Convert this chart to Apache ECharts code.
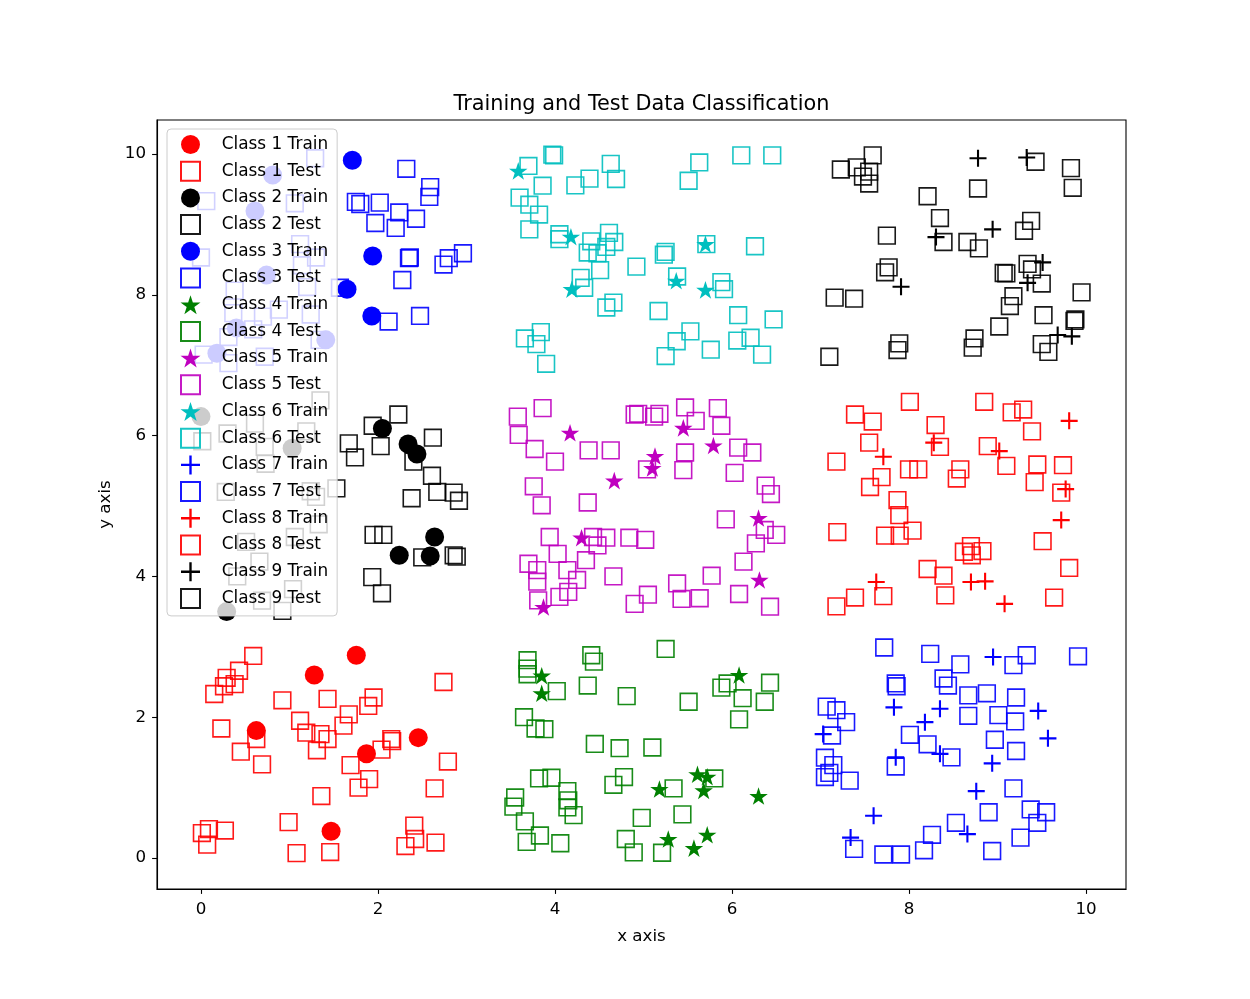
<!DOCTYPE html>
<html>
<head>
<meta charset="utf-8">
<script src="https://cdn.jsdelivr.net/npm/echarts@6.0.0/dist/echarts.min.js"></script>
<style>
html, body {margin:0; padding:0; background:#fff;}
#chart {width:1250px; height:999px;}
</style>
</head>
<body>
<div id="chart"></div>
<script>
// points, [x, y]
var class1Train = [[1.755,2.88],[1.28,2.60],[0.625,1.81],[2.455,1.71],[1.87,1.48],[1.47,0.38]];
var class1Test = [[0.59,2.87],[0.43,2.66],[0.29,2.56],[0.38,2.47],[0.26,2.44],[0.15,2.33],[2.74,2.50],[0.92,2.24],[1.43,2.26],[1.95,2.28],[1.89,2.16],[1.67,2.04],[1.12,1.95],[1.61,1.88],[0.23,1.84],[1.19,1.78],[1.35,1.76],[1.43,1.69],[0.625,1.69],[2.15,1.69],[2.16,1.66],[2.04,1.54],[1.31,1.53],[0.45,1.51],[0.69,1.33],[1.69,1.32],[2.79,1.37],[1.90,1.12],[1.78,1.00],[2.64,0.99],[1.36,0.88],[0.99,0.51],[0.01,0.355],[0.09,0.41],[0.27,0.39],[0.07,0.19],[2.41,0.46],[2.42,0.27],[2.31,0.17],[2.65,0.22],[1.08,0.07],[1.46,0.085]];
var class2Train = [[2.05,6.10],[2.34,5.88],[2.44,5.74],[2.64,4.56],[2.24,4.30],[2.59,4.29],[0.0,6.27],[1.03,5.82],[0.29,3.50]];
var class2Test = [[2.23,6.30],[1.94,6.14],[1.67,5.89],[1.74,5.69],[2.03,5.85],[2.62,5.97],[2.40,5.63],[2.61,5.43],[2.67,5.20],[2.855,5.19],[2.915,5.075],[2.38,5.11],[1.95,4.59],[2.06,4.59],[2.50,4.27],[2.855,4.30],[2.89,4.28],[1.935,3.99],[2.045,3.76],[1.35,6.50],[0.61,6.17],[0.30,6.03],[0.015,5.92],[1.19,6.06],[0.72,5.84],[0.73,5.60],[1.53,5.25],[0.28,5.20],[1.24,5.21],[1.30,5.13],[1.33,4.74],[0.51,4.49],[1.06,4.56],[0.66,4.21],[0.41,4.00],[1.04,3.82],[0.69,3.655],[0.92,3.51]];
var class3Train = [[1.71,9.91],[1.94,8.55],[1.65,8.08],[1.93,7.70],[0.81,9.70],[0.61,9.19],[0.74,8.28],[0.40,7.53],[1.41,7.36],[0.18,7.17]];
var class3Test = [[2.32,9.79],[2.59,9.53],[2.58,9.39],[1.75,9.32],[1.80,9.29],[2.02,9.31],[2.24,9.17],[2.43,9.08],[1.97,9.02],[2.20,8.95],[2.35,8.52],[2.36,8.53],[2.96,8.59],[2.80,8.52],[2.74,8.43],[2.275,8.21],[2.475,7.70],[2.12,7.62],[1.57,8.10],[1.29,9.94],[0.06,9.33],[1.06,9.30],[0.0,8.53],[1.12,8.72],[1.30,8.53],[1.14,8.42],[1.20,8.11],[0.38,8.06],[0.365,7.74],[0.88,7.79],[0.70,7.69],[1.24,7.72],[0.31,7.40],[0.59,7.51],[0.03,7.15],[0.31,7.03],[0.72,7.12],[1.34,7.36]];
var class4Train = [[3.85,2.59],[3.85,2.34],[6.08,2.60],[5.61,1.19],[5.72,1.155],[5.18,0.98],[5.68,0.96],[6.30,0.88],[5.28,0.27],[5.72,0.33],[5.57,0.14]];
var class4Test = [[5.25,2.97],[4.41,2.88],[4.44,2.79],[3.69,2.81],[3.69,2.69],[3.69,2.61],[4.02,2.37],[4.37,2.45],[4.81,2.30],[5.51,2.22],[5.88,2.42],[5.95,2.48],[6.12,2.27],[6.43,2.49],[6.37,2.22],[6.08,1.97],[3.65,2.00],[3.78,1.84],[3.88,1.83],[4.45,1.62],[4.73,1.56],[5.10,1.57],[3.82,1.13],[3.96,1.14],[4.78,1.15],[4.66,1.04],[4.14,0.95],[4.15,0.82],[4.14,0.72],[4.21,0.61],[3.55,0.86],[3.53,0.73],[3.66,0.52],[3.68,0.23],[3.83,0.32],[4.06,0.21],[5.34,0.99],[5.80,1.13],[4.98,0.57],[5.44,0.62],[4.80,0.27],[4.89,0.08],[5.21,0.075]];
var class5Train = [[4.17,6.04],[5.45,6.11],[5.79,5.86],[5.13,5.71],[5.10,5.54],[4.67,5.36],[6.30,4.83],[4.30,4.55],[6.31,3.95],[3.87,3.565]];
var class5Test = [[3.58,6.27],[3.86,6.39],[3.59,6.01],[3.77,5.81],[4.00,5.63],[4.38,5.79],[4.63,5.79],[4.90,6.30],[4.94,6.31],[5.12,6.27],[5.18,6.31],[5.47,6.40],[5.59,6.21],[5.84,6.39],[5.88,6.14],[5.47,5.76],[5.45,5.51],[5.04,5.52],[6.07,5.83],[6.23,5.76],[6.03,5.47],[6.38,5.29],[6.44,5.17],[3.76,5.28],[3.85,5.01],[4.37,5.05],[5.93,4.81],[6.37,4.66],[6.50,4.59],[6.27,4.47],[6.13,4.21],[3.94,4.56],[4.43,4.56],[4.48,4.44],[4.58,4.55],[4.84,4.55],[5.02,4.52],[4.03,4.32],[4.35,4.23],[3.70,4.18],[3.80,4.09],[4.14,4.09],[4.25,3.95],[3.80,3.925],[4.15,3.78],[4.05,3.71],[3.81,3.66],[4.66,4.00],[5.38,3.90],[5.77,4.01],[5.05,3.74],[4.90,3.61],[5.43,3.68],[5.635,3.69],[6.08,3.75],[6.43,3.57]];
var class6Train = [[3.585,9.76],[4.18,8.825],[5.70,8.72],[5.37,8.20],[4.19,8.08],[5.70,8.07]];
var class6Test = [[3.97,9.99],[3.99,9.98],[3.70,9.83],[3.86,9.55],[3.60,9.38],[3.71,9.28],[3.82,9.14],[3.71,8.93],[4.23,9.555],[4.39,9.65],[4.63,9.86],[4.69,9.645],[4.05,8.86],[4.05,8.79],[4.41,8.76],[4.61,8.88],[4.67,8.75],[4.58,8.68],[4.37,8.60],[4.48,8.59],[4.51,8.35],[4.29,8.24],[4.33,8.10],[4.66,7.89],[4.58,7.82],[4.92,8.40],[5.25,8.61],[5.23,8.57],[5.38,8.26],[5.71,8.72],[5.63,9.88],[5.51,9.62],[6.105,9.98],[6.455,9.98],[6.26,8.69],[5.88,8.18],[5.91,8.08],[5.17,7.77],[6.07,7.71],[6.47,7.65],[5.53,7.48],[5.375,7.34],[5.25,7.13],[5.76,7.22],[6.06,7.35],[6.21,7.39],[6.34,7.15],[3.84,7.47],[3.66,7.38],[3.79,7.30],[3.90,7.02]];
var class7Train = [[8.95,2.855],[7.83,2.14],[8.35,2.12],[8.18,1.93],[9.46,2.09],[9.57,1.70],[7.03,1.76],[7.85,1.43],[8.35,1.48],[8.94,1.345],[8.76,0.95],[7.60,0.60],[7.34,0.29],[8.66,0.34]];
var class7Test = [[7.72,2.99],[8.24,2.90],[8.58,2.75],[9.33,2.88],[9.18,2.74],[9.91,2.865],[7.85,2.48],[7.86,2.44],[8.39,2.55],[8.44,2.45],[8.67,2.31],[8.88,2.34],[9.21,2.28],[7.07,2.15],[7.18,2.10],[7.29,1.93],[8.67,2.02],[9.01,2.03],[9.20,1.94],[7.13,1.74],[8.01,1.75],[8.21,1.615],[8.97,1.68],[9.21,1.52],[8.48,1.43],[7.05,1.425],[7.145,1.32],[7.10,1.21],[7.05,1.15],[7.33,1.10],[7.85,1.30],[9.18,0.99],[8.90,0.65],[9.375,0.69],[9.55,0.65],[9.45,0.50],[9.26,0.29],[8.53,0.50],[8.26,0.33],[8.17,0.11],[8.94,0.10],[7.38,0.13],[7.71,0.05],[7.91,0.05]];
var class8Train = [[9.81,6.21],[8.28,5.90],[7.71,5.70],[9.02,5.78],[9.77,5.24],[9.72,4.80],[7.63,3.92],[8.70,3.92],[8.86,3.93],[9.08,3.61]];
var class8Test = [[8.01,6.48],[8.85,6.48],[9.16,6.33],[9.29,6.37],[7.39,6.30],[7.59,6.20],[8.30,6.15],[9.39,6.06],[7.55,5.90],[8.35,5.84],[8.89,5.85],[7.18,5.63],[9.10,5.57],[9.45,5.59],[9.74,5.58],[8.00,5.52],[8.105,5.52],[8.58,5.52],[8.54,5.39],[9.42,5.34],[9.72,5.19],[7.69,5.41],[7.56,5.27],[7.87,5.085],[7.89,4.87],[7.19,4.63],[7.73,4.58],[7.895,4.58],[8.04,4.65],[9.51,4.50],[8.70,4.43],[8.62,4.35],[8.71,4.30],[8.83,4.36],[8.21,4.105],[8.39,4.01],[9.81,4.12],[7.39,3.70],[7.18,3.575],[7.71,3.72],[8.41,3.73],[9.64,3.70]];
var class9Train = [[8.78,9.94],[9.33,9.95],[8.945,8.93],[8.305,8.82],[9.51,8.46],[9.34,8.17],[7.91,8.115],[9.68,7.43],[9.84,7.41]];
var class9Test = [[7.23,9.78],[7.41,9.81],[7.59,9.98],[7.55,9.75],[7.48,9.68],[7.55,9.58],[9.83,9.80],[9.85,9.52],[9.43,9.89],[8.78,9.51],[8.21,9.40],[8.35,9.09],[8.39,8.75],[8.66,8.75],[8.79,8.66],[9.38,9.05],[9.30,8.91],[7.75,8.84],[7.77,8.39],[7.73,8.32],[7.16,7.96],[7.38,7.945],[9.07,8.31],[9.10,8.305],[9.34,8.44],[9.39,8.36],[9.50,8.16],[9.18,7.98],[9.14,7.84],[9.95,8.035],[9.52,7.71],[9.02,7.55],[9.88,7.65],[9.87,7.63],[9.50,7.30],[9.575,7.19],[8.74,7.38],[8.72,7.25],[7.89,7.31],[7.87,7.215],[7.10,7.12]];

var tickValues = [0, 2, 4, 6, 8, 10];

var trainSets = [class1Train, class2Train, class3Train, class4Train, class5Train, class6Train, class7Train, class8Train, class9Train];
var testSets = [class1Test, class2Test, class3Test, class4Test, class5Test, class6Test, class7Test, class8Test, class9Test];
var classColors = ['#ff0000', '#000000', '#0000ff', '#008000', '#bf00bf', '#00bfbf', '#0000ff', '#ff0000', '#000000'];

var STAR = 'path://M100,0 L122.45,69.1 L195.11,69.1 L136.33,111.8 L158.78,180.9 L100,138.2 L41.22,180.9 L63.67,111.8 L4.89,69.1 L77.55,69.1 Z';
var PLUS = 'path://M0,43.8 L43.8,43.8 L43.8,0 L56.2,0 L56.2,43.8 L100,43.8 L100,56.2 L56.2,56.2 L56.2,100 L43.8,100 L43.8,56.2 L0,56.2 Z';
// square as a path so the legend keeps it square
var SQUARE = 'path://M0,0 L100,0 L100,100 L0,100 Z';
var trainSymbols = ['circle', 'circle', 'circle', STAR, STAR, STAR, PLUS, PLUS, PLUS];
var trainSizes = [19, 19, 19, 18.5, 18.5, 18.5, 17, 17, 17];

var font = 'DejaVu Sans';
var series = [];
var legendNames = [];
for (var i = 0; i < 9; i++) {
  var n = i + 1;
  legendNames.push('Class ' + n + ' Train', 'Class ' + n + ' Test');
  series.push({
    name: 'Class ' + n + ' Train',
    type: 'scatter',
    data: trainSets[i],
    symbol: trainSymbols[i],
    symbolSize: trainSizes[i],
    symbolKeepAspect: true,
    z: 3,
    itemStyle: {color: classColors[i], opacity: 1}
  });
  series.push({
    name: 'Class ' + n + ' Test',
    type: 'scatter',
    data: testSets[i],
    symbol: SQUARE,
    symbolSize: 16.7,
    symbolKeepAspect: true,
    z: 2,
    itemStyle: {color: 'rgba(0,0,0,0)', borderColor: classColors[i], borderWidth: 1.6, opacity: 0.9}
  });
}

var chart_div = echarts.init(document.getElementById('chart'));
var option = {
  animation: false,
  backgroundColor: '#ffffff',
  title: {
    text: 'Training and Test Data Classification',
    left: 453.5,
    top: 94,
    padding: 0,
    textStyle: {fontFamily: font, fontSize: 20.8, fontWeight: 'normal', color: '#000'}
  },
  legend: {
    orient: 'vertical',
    left: 167,
    top: 129,
    padding: [6, 9, 7, 13],
    itemWidth: 28,
    itemHeight: 19,
    itemGap: 6.7,
    selectedMode: false,
    backgroundColor: 'rgba(255,255,255,0.8)',
    borderColor: '#cccccc',
    borderWidth: 1,
    borderRadius: 4,
    textStyle: {fontFamily: font, fontSize: 16.9, color: '#000', padding: [0, 0, 0, 12.2]},
    data: legendNames
  },
  grid: {
    left: 157, top: 120, right: 124, bottom: 110,
    show: true, borderColor: '#000', borderWidth: 1.1, backgroundColor: 'transparent'
  },
  xAxis: {
    type: 'value',
    min: -0.497,
    max: 10.452,
    name: 'x axis',
    nameLocation: 'middle',
    nameGap: 39,
    nameTextStyle: {fontFamily: font, fontSize: 16.7, color: '#000'},
    axisLine: {show: true, onZero: false, lineStyle: {color: '#000', width: 1.1}},
    axisTick: {show: true, length: 4.9, customValues: tickValues, lineStyle: {color: '#000', width: 1.1}},
    axisLabel: {customValues: tickValues, margin: 12, fontFamily: font, fontSize: 16.7, color: '#000'},
    splitLine: {show: false}
  },
  yAxis: {
    type: 'value',
    min: -0.44,
    max: 10.483,
    name: 'y axis',
    nameLocation: 'middle',
    nameGap: 42,
    nameRotate: 90,
    nameTextStyle: {fontFamily: font, fontSize: 16.7, color: '#000'},
    axisLine: {show: true, onZero: false, lineStyle: {color: '#000', width: 1.1}},
    axisTick: {show: true, length: 4.9, customValues: tickValues, lineStyle: {color: '#000', width: 1.1}},
    axisLabel: {customValues: tickValues, margin: 11, fontFamily: font, fontSize: 16.7, color: '#000'},
    splitLine: {show: false}
  },
  series: series
};
chart_div.setOption(option);
</script>
</body>
</html>
